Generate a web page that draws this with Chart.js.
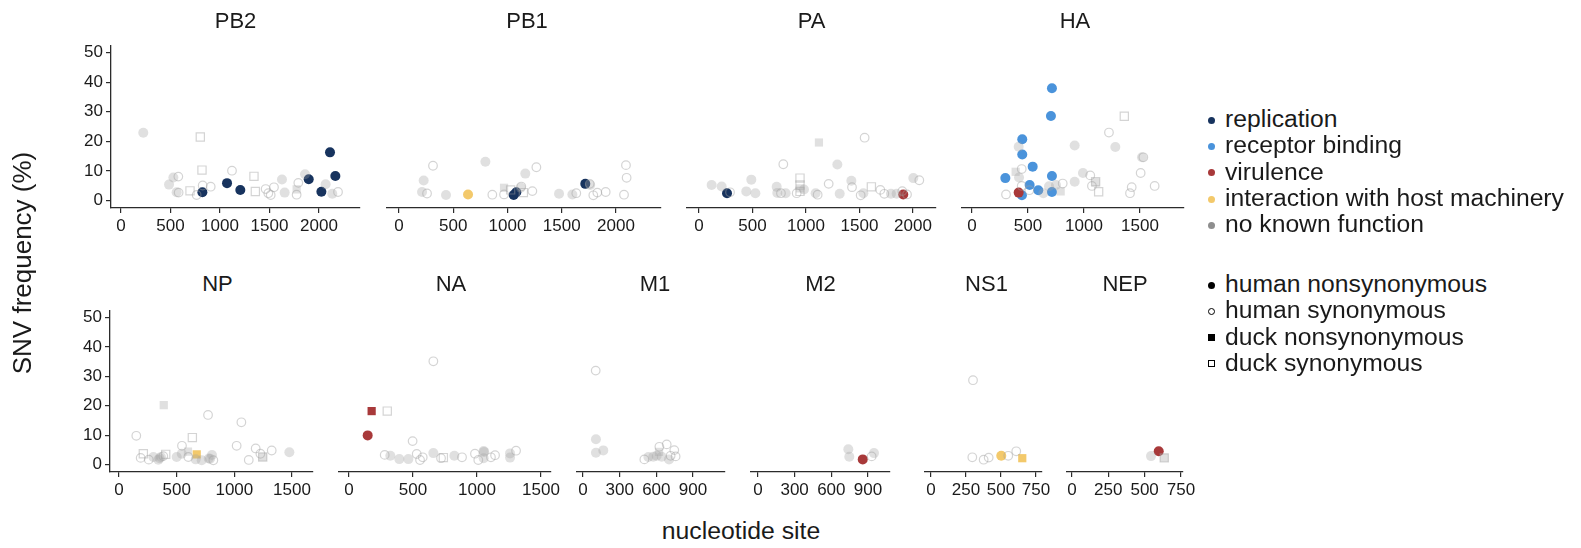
<!DOCTYPE html>
<html>
<head>
<meta charset="utf-8">
<script src="https://cdn.jsdelivr.net/npm/chart.js@4.4.1/dist/chart.umd.min.js"></script>
<style>
  body { margin: 0; background: #fff; width: 1581px; height: 548px; overflow: hidden; position: relative;
         font-family: "Liberation Sans", Arial, Helvetica, sans-serif; color: #1a1a1a; }
  canvas { position: absolute; }
  .t { position: absolute; white-space: nowrap; }
  .dot { position: absolute; width: 7px; height: 7px; border-radius: 50%; box-sizing: border-box; }
</style>
</head>
<body>
<script>
// === Data: [nucleotide site, SNV frequency (%), function, kind] ===
// kind: hn = human nonsynonymous, hs = human synonymous, dn = duck nonsynonymous, ds = duck synonymous
const PB2 = [
  [225,22.9,'none','hn'],[801,21.5,'none','ds'],[818,10.3,'none','ds'],[485,5.4,'none','hn'],
  [529,7.8,'none','hn'],[579,8.1,'none','hs'],[562,2.8,'none','hn'],[582,2.7,'none','hs'],
  [697,3.3,'none','ds'],[764,1.9,'none','hs'],[825,5.1,'none','hs'],[906,4.7,'none','hs'],
  [1121,10.1,'none','hs'],[1343,8.2,'none','ds'],[1357,3.1,'none','ds'],[1461,3.9,'none','hs'],
  [1488,2.5,'none','hs'],[1512,1.9,'none','hs'],[1545,4.5,'none','hs'],[1626,7.1,'none','hn'],
  [1653,2.7,'none','hn'],[1791,6.0,'none','hs'],[1774,3.8,'none','dn'],[1774,2.0,'none','hs'],
  [1859,8.9,'none','hn'],[2067,5.5,'none','hn'],[2134,2.3,'none','hn'],[2192,2.9,'none','hs'],
  [822,2.8,'rep','hn'],[1071,5.9,'rep','hn'],[1205,3.6,'rep','hn'],[1896,7.2,'rep','hn'],
  [2111,16.3,'rep','hn'],[2165,8.3,'rep','hn'],[2024,3.0,'rep','hn']
];
const PB1 = [
  [313,11.5,'none','hs'],[227,6.6,'none','hn'],[212,2.8,'none','hn'],[258,2.3,'none','hs'],
  [433,1.8,'none','hn'],[796,12.8,'none','hn'],[860,1.9,'none','hs'],[968,4.2,'none','dn'],
  [968,2.0,'none','hs'],[1029,3.5,'none','ds'],[1127,4.6,'none','hs'],[1122,4.2,'none','hn'],
  [1146,2.6,'none','ds'],[1164,8.9,'none','hn'],[1229,3.1,'none','hs'],[1266,11.0,'none','hs'],
  [1475,2.2,'none','hn'],[1598,2.0,'none','hn'],[1634,2.4,'none','hs'],[1758,5.5,'none','hs'],
  [1762,5.1,'none','hn'],[1791,1.7,'none','hs'],[1828,2.6,'none','hs'],[1905,2.8,'none','hs'],
  [2092,11.7,'none','hs'],[2098,7.5,'none','hs'],[2074,1.9,'none','hs'],
  [636,2.0,'int','hn'],[1057,1.8,'rep','hn'],[1081,2.7,'rep','hn'],[1717,5.5,'rep','hn']
];
const PA = [
  [118,5.1,'none','hn'],[212,4.6,'none','hn'],[290,2.7,'none','hs'],[442,3.0,'none','hn'],
  [489,6.9,'none','hn'],[527,2.4,'none','hn'],[726,4.5,'none','hn'],[732,2.5,'none','hn'],
  [766,2.4,'none','hs'],[810,2.4,'none','hn'],[788,12.0,'none','hs'],[944,7.4,'none','ds'],
  [944,5.1,'none','ds'],[944,4.0,'none','dn'],[944,3.0,'none','ds'],[913,2.4,'none','hs'],
  [981,3.6,'none','hn'],[1090,2.4,'none','hn'],[1109,1.9,'none','hs'],[1121,19.2,'none','dn'],
  [1212,5.5,'none','hs'],[1293,11.9,'none','hn'],[1315,2.2,'none','hn'],[1424,6.5,'none','hn'],
  [1430,4.4,'none','hs'],[1548,20.8,'none','hs'],[1511,1.7,'none','hs'],[1536,2.4,'none','hn'],
  [1611,4.5,'none','ds'],[1695,3.5,'none','hs'],[1732,2.2,'none','hs'],[1794,2.2,'none','hn'],
  [1847,2.2,'none','hn'],[1900,3.1,'none','hs'],[1944,2.0,'none','hs'],[2003,7.4,'none','hn'],
  [2059,6.7,'none','hs'],
  [262,2.4,'rep','hn'],[1909,2.0,'vir','hn']
];
const HA = [
  [1360,27.9,'none','ds'],[1223,22.5,'none','hs'],[417,17.8,'none','hn'],[917,18.2,'none','hn'],
  [1280,17.7,'none','hn'],[1518,14.3,'none','hn'],[1530,14.3,'none','hs'],[444,10.4,'none','hs'],
  [390,9.5,'none','dn'],[420,7.6,'none','hn'],[991,9.1,'none','hn'],[1056,8.3,'none','hs'],
  [1506,9.1,'none','hs'],[917,6.2,'none','hn'],[1104,6.2,'none','ds'],[1104,6.0,'none','dn'],
  [1071,4.8,'none','hs'],[810,5.6,'none','hs'],[750,5.1,'none','hn'],[688,4.7,'none','hn'],
  [444,4.8,'none','hs'],[792,3.0,'none','dn'],[637,2.4,'none','hn'],[304,2.0,'none','hs'],
  [512,3.4,'none','hs'],[1131,2.9,'none','ds'],[1426,4.4,'none','hs'],[1411,2.4,'none','hs'],
  [1631,4.8,'none','hs'],
  [417,2.6,'vir','hn'],
  [714,37.2,'rec','hn'],[705,28.0,'rec','hn'],[449,20.3,'rec','hn'],[449,15.2,'rec','hn'],
  [542,11.2,'rec','hn'],[298,7.4,'rec','hn'],[714,8.1,'rec','hn'],[515,5.1,'rec','hn'],
  [592,3.4,'rec','hn'],[714,2.8,'rec','hn'],[446,1.7,'rec','hn']
];
const NP = [
  [150,9.8,'none','hs'],[211,3.7,'none','ds'],[188,2.3,'none','hs'],[258,1.7,'none','hs'],
  [298,2.6,'none','hn'],[341,1.7,'none','hn'],[352,2.2,'none','hn'],[364,2.6,'none','hn'],
  [405,3.5,'none','ds'],[384,2.9,'none','hs'],[388,20.2,'none','dn'],[500,2.6,'none','hn'],
  [546,6.4,'none','hs'],[544,3.7,'none','hn'],[598,4.4,'none','dn'],[601,2.6,'none','hs'],
  [636,9.2,'none','ds'],[665,1.8,'none','hn'],[717,1.5,'none','hn'],[772,16.9,'none','hs'],
  [806,3.3,'none','hn'],[778,2.1,'none','hn'],[790,2.0,'none','hn'],[818,1.5,'none','hs'],
  [1020,6.4,'none','hs'],[1061,14.4,'none','hs'],[1125,1.6,'none','hs'],[1185,5.5,'none','hs'],
  [1226,3.7,'none','hs'],[1246,2.6,'none','ds'],[1246,2.6,'none','dn'],[1324,4.8,'none','hs'],
  [1477,4.2,'none','hn'],
  [674,3.5,'int','dn']
];
const NA = [
  [659,34.4,'none','hs'],[299,17.8,'none','ds'],[497,7.8,'none','hs'],[279,3.2,'none','hs'],
  [323,2.9,'none','hn'],[393,1.8,'none','hn'],[464,1.8,'none','hn'],[529,3.5,'none','hs'],
  [555,1.5,'none','hs'],[576,2.4,'none','hs'],[659,3.8,'none','hn'],[719,2.1,'none','hs'],
  [737,2.3,'none','ds'],[823,2.9,'none','hn'],[883,2.4,'none','hs'],[984,3.6,'none','hs'],
  [1010,1.5,'none','hs'],[1052,4.5,'none','hn'],[1055,4.2,'none','hn'],[1052,2.1,'none','hn'],
  [1109,2.4,'none','hs'],[1141,3.1,'none','hs'],[1258,3.7,'none','hn'],[1258,2.3,'none','hn'],
  [1305,4.6,'none','hs'],
  [177,17.8,'vir','dn'],[146,9.7,'vir','hn']
];
const M1 = [
  [104,31.3,'none','hs'],[106,8.4,'none','hn'],[106,3.9,'none','hn'],[166,4.7,'none','hn'],
  [502,1.7,'none','hs'],[535,2.5,'none','hn'],[575,2.6,'none','hn'],[603,2.9,'none','hn'],
  [622,4.2,'none','dn'],[625,5.9,'none','hs'],[685,6.7,'none','hs'],[644,2.6,'none','hn'],
  [704,1.7,'none','hn'],[717,2.9,'none','hs'],[747,4.8,'none','hs'],[758,2.7,'none','hs']
];
const M2 = [
  [739,5.1,'none','hn'],[747,2.6,'none','hn'],[930,2.7,'none','hs'],[949,3.8,'none','hn'],
  [857,1.7,'vir','hn']
];
const NS1 = [
  [300,28.1,'none','hs'],[295,2.4,'none','hs'],[376,1.6,'none','hs'],[412,2.3,'none','hs'],
  [552,2.9,'none','hs'],[609,4.4,'none','hs'],
  [502,2.9,'int','hn'],[652,2.1,'int','dn']
];
const NEP = [
  [544,2.8,'none','hn'],[635,2.2,'none','dn'],[635,2.2,'none','ds'],
  [597,4.4,'vir','hn']
];

// === Tick labels ===
const Y_TICKS = [0, 10, 20, 30, 40, 50];
const TICKS_2000 = [0, 500, 1000, 1500, 2000];
const TICKS_1500 = [0, 500, 1000, 1500];
const TICKS_900 = [0, 300, 600, 900];
const TICKS_750 = [0, 250, 500, 750];

const FUNC_LABELS = ['replication', 'receptor binding', 'virulence', 'interaction with host machinery', 'no known function'];
const KIND_LABELS = ['human nonsynonymous', 'human synonymous', 'duck nonsynonymous', 'duck synonymous'];

// === Styling / layout ===
const FONT = '"Liberation Sans", Arial, Helvetica, sans-serif';
const AX = '#2b2b2b';
const COLORS = { rep: '#17335e', rec: '#4a93db', vir: '#a8393a', int: '#f3c96b' };
const GRAY_FILL = 'rgba(160,160,160,0.33)';
const GRAY_LINE = 'rgba(160,160,160,0.45)';
const LEGEND_DOT = ['#17335e', '#4a93db', '#a8393a', '#f3c96b', '#8e8e8e'];

const ROWS = [{ top: 42, bottom: 208 }, { top: 307, bottom: 472 }];

const PANELS = [
  { name: 'PB2', data: PB2, ticks: TICKS_2000, row: 0, left: 111, right: 360, xmin: -101, xmax: 2414, yaxis: true, tdx: 0 },
  { name: 'PB1', data: PB1, ticks: TICKS_2000, row: 0, left: 387, right: 661, xmin: -111, xmax: 2415, tdx: 3 },
  { name: 'PA',  data: PA,  ticks: TICKS_2000, row: 0, left: 687, right: 936, xmin: -112, xmax: 2215, tdx: 0 },
  { name: 'HA',  data: HA,  ticks: TICKS_1500, row: 0, left: 962, right: 1184, xmin: -89, xmax: 1893, tdx: 2 },
  { name: 'NP',  data: NP,  ticks: TICKS_1500, row: 1, left: 110, right: 313, xmin: -78, xmax: 1682, yaxis: true, tdx: 6 },
  { name: 'NA',  data: NA,  ticks: TICKS_1500, row: 1, left: 339, right: 551, xmin: -78, xmax: 1578, tdx: 6 },
  { name: 'M1',  data: M1,  ticks: TICKS_900,  row: 1, left: 577, right: 725, xmin: -49, xmax: 1162, tdx: 4 },
  { name: 'M2',  data: M2,  ticks: TICKS_900,  row: 1, left: 751, right: 890, xmin: -57, xmax: 1080, tdx: 0 },
  { name: 'NS1', data: NS1, ticks: TICKS_750,  row: 1, left: 925, right: 1042, xmin: -43, xmax: 793, tdx: 3 },
  { name: 'NEP', data: NEP, ticks: TICKS_750,  row: 1, left: 1067, right: 1183, xmin: -34, xmax: 764, tdx: 0 }
];

const GROUP_ORDER = ['none:hs', 'none:ds', 'none:hn', 'none:dn', 'vir:hn', 'vir:dn', 'int:hn', 'int:dn', 'rep:hn', 'rec:hn'];

function styleFor(func, kind) {
  const rect = kind[0] === 'd';
  const hollow = kind[1] === 's';
  const col = func === 'none' ? GRAY_FILL : COLORS[func];
  return {
    pointStyle: rect ? 'rect' : 'circle',
    pointRadius: rect ? 5.8 : (hollow ? 4.3 : 5),
    backgroundColor: hollow ? 'rgba(0,0,0,0)' : col,
    borderColor: hollow ? GRAY_LINE : col,
    borderWidth: hollow ? 1.2 : 0
  };
}

function addText(txt, x, y, size, extra) {
  const d = document.createElement('div');
  d.className = 't';
  d.textContent = txt;
  d.style.fontSize = size + 'px';
  d.style.lineHeight = size + 'px';
  d.style.left = x + 'px';
  d.style.top = y + 'px';
  if (extra) Object.assign(d.style, extra);
  document.body.appendChild(d);
  return d;
}

// === Panels ===
PANELS.forEach(p => {
  const padL = 30, padR = 30, padT = 10, xAxH = 34;
  const yAxW = p.yaxis ? 50 : 0;
  const row = ROWS[p.row];
  const plotW = p.right - p.left, plotH = row.bottom - row.top;
  const W = padL + yAxW + plotW + padR, H = padT + plotH + xAxH;

  const c = document.createElement('canvas');
  c.width = W; c.height = H;
  c.style.width = W + 'px'; c.style.height = H + 'px';
  c.style.left = (p.left - padL - yAxW) + 'px';
  c.style.top = (row.top - padT) + 'px';
  document.body.appendChild(c);

  const datasets = GROUP_ORDER.map(key => {
    const [func, kind] = key.split(':');
    const pts = p.data.filter(d => d[2] === func && d[3] === kind).map(d => ({ x: d[0], y: d[1] }));
    return Object.assign({ data: pts }, styleFor(func, kind));
  }).filter(ds => ds.data.length);

  const tickFont = { family: FONT, size: 17 };
  new Chart(c, {
    type: 'scatter',
    data: { datasets },
    options: {
      responsive: false,
      animation: false,
      events: [],
      layout: { padding: { left: padL, right: padR, top: padT, bottom: 0 } },
      plugins: { legend: { display: false }, tooltip: { enabled: false } },
      scales: {
        x: {
          type: 'linear', min: p.xmin, max: p.xmax,
          afterBuildTicks: s => { s.ticks = p.ticks.map(v => ({ value: v })); },
          afterFit: s => { s.height = xAxH; },
          grid: { display: true, drawOnChartArea: false, drawTicks: true, tickLength: 5, color: AX, lineWidth: 1.2 },
          border: { display: true, color: AX, width: 1.3 },
          ticks: { color: '#1a1a1a', font: tickFont, padding: 3, maxRotation: 0, autoSkip: false, callback: v => String(v) }
        },
        y: {
          type: 'linear', min: -2.5, max: 52.5, display: !!p.yaxis,
          afterBuildTicks: s => { s.ticks = Y_TICKS.map(v => ({ value: v })); },
          afterFit: s => { s.width = yAxW; },
          grid: { display: true, drawOnChartArea: false, drawTicks: true, tickLength: 5, color: AX, lineWidth: 1.2 },
          border: { display: true, color: AX, width: 1.3 },
          ticks: { color: '#1a1a1a', font: tickFont, padding: 3, autoSkip: false, callback: v => String(v) }
        }
      }
    }
  });

  // facet title
  const cx = (p.left + p.right) / 2 + p.tdx;
  const cy = p.row === 0 ? 20.7 : 284;
  addText(p.name, cx, cy - 0.49 * 22, 22, { transform: 'translateX(-50%)' });
});

// === Axis titles ===
addText('nucleotide site', 741, 540 - 0.8465 * 24.8, 24.8, { transform: 'translateX(-50%)' });
addText('SNV frequency (%)', 21.7 - 150, 263 - 13, 26, { width: '300px', textAlign: 'center', transform: 'rotate(-90deg)' });

// === Legends ===
const LEG_FS = 24.7;
FUNC_LABELS.forEach((lab, i) => {
  const base = 127.7 + i * 26.4;
  addText(lab, 1225, base - 0.8465 * LEG_FS, LEG_FS);
  const d = document.createElement('div');
  d.className = 'dot';
  d.style.background = LEGEND_DOT[i];
  d.style.left = (1211.7 - 3.5) + 'px';
  d.style.top = (base - 7.7 - 3.5) + 'px';
  document.body.appendChild(d);
});
KIND_LABELS.forEach((lab, i) => {
  const base = 293.3 + i * 26.1;
  addText(lab, 1225, base - 0.8465 * LEG_FS, LEG_FS);
  const d = document.createElement('div');
  d.className = 'dot';
  const hollow = i % 2 === 1;
  if (i >= 2) d.style.borderRadius = '0';
  d.style.background = hollow ? '#fff' : '#000';
  d.style.border = hollow ? '1px solid #000' : 'none';
  d.style.left = (1211.7 - 3.5) + 'px';
  d.style.top = (base - 7.7 - 3.5) + 'px';
  document.body.appendChild(d);
});
</script>
</body>
</html>
